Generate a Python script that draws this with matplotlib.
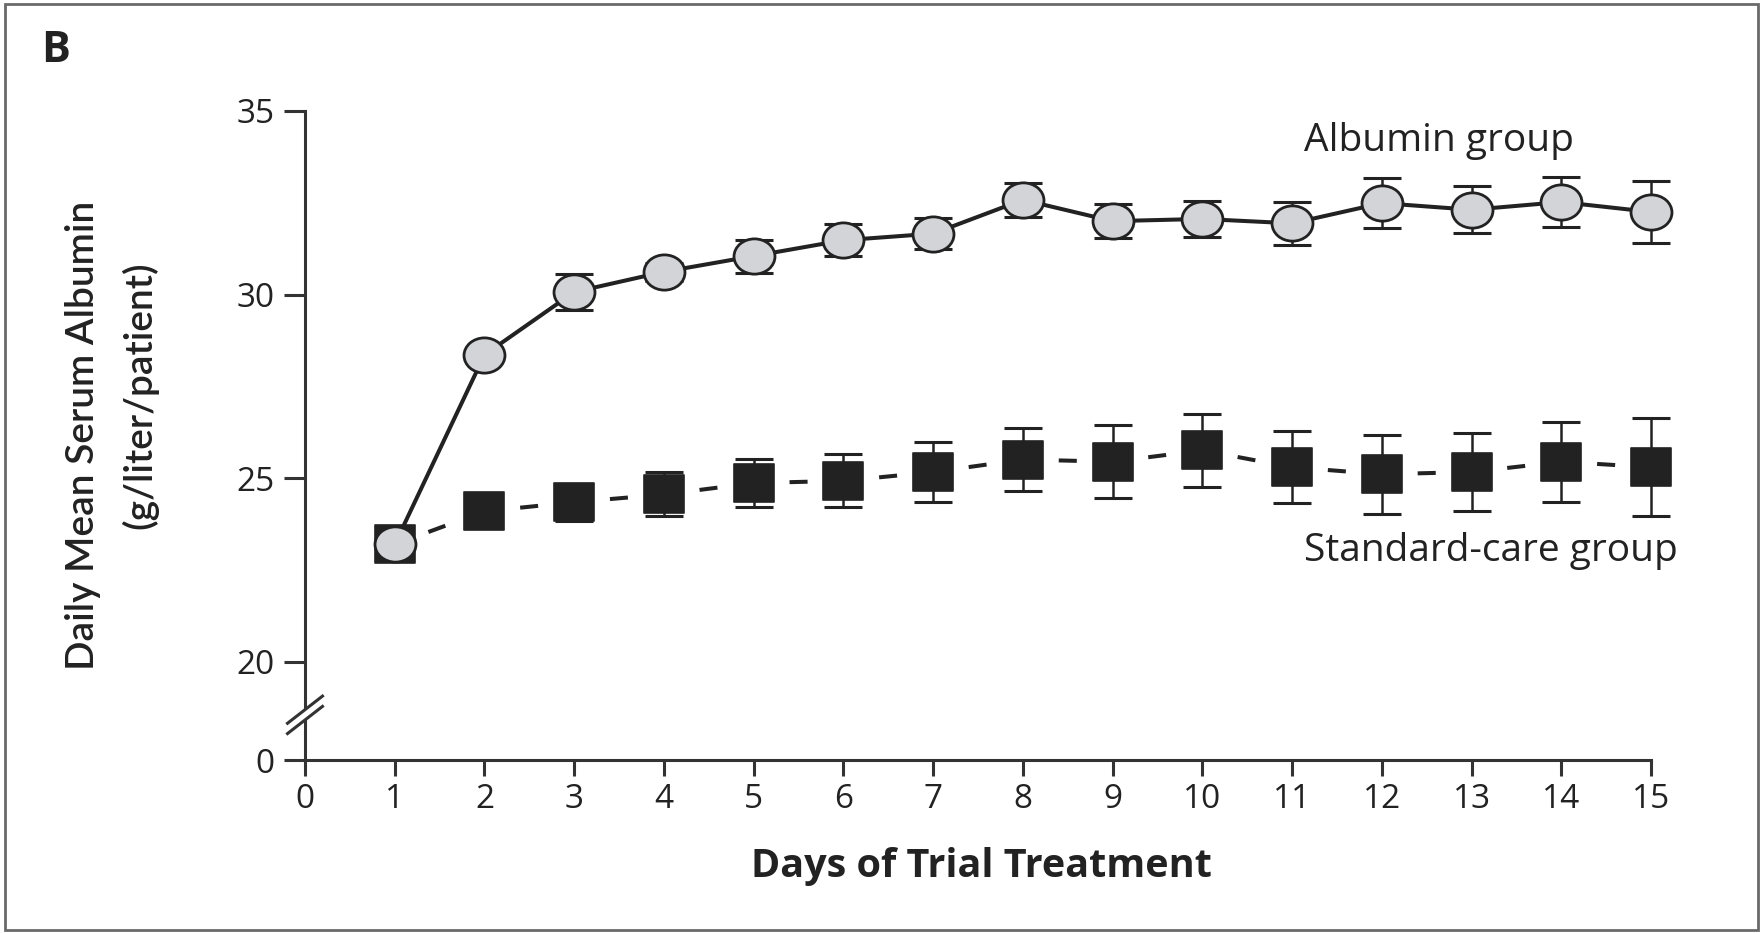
import numpy as np
import matplotlib
matplotlib.use('Agg')
import matplotlib.pyplot as plt
from matplotlib.patches import Rectangle, Polygon
from matplotlib.path import Path

plt.rcParams['font.family'] = ['Open Sans', 'DejaVu Sans']
plt.rcParams['lines.scale_dashes'] = False

# data (g/liter/patient)
days = np.arange(1, 16)
albumin = [23.2, 28.36, 30.07, 30.62, 31.05, 31.48, 31.66, 32.58, 32.0, 32.06,
           31.94, 32.49, 32.31, 32.52, 32.25]
albumin_err = [0.15, 0.2, 0.5, 0.25, 0.45, 0.43, 0.43, 0.47, 0.46, 0.49,
               0.58, 0.69, 0.64, 0.69, 0.84]
standard = [23.2, 24.1, 24.35, 24.56, 24.87, 24.93, 25.17, 25.51, 25.45, 25.76,
            25.3, 25.11, 25.17, 25.45, 25.3]
standard_err = [0.2, 0.3, 0.5, 0.6, 0.66, 0.72, 0.81, 0.86, 1.0, 1.0,
                0.98, 1.07, 1.06, 1.09, 1.33]

ytick_vals = [20, 25, 30, 35]
xtick_vals = list(range(0, 16))

# bottom of the broken axis stands for 0
y_zero = 17.33
ink = '#222222'
axis_col = '#333333'

# slightly flattened marker shapes, as in the printed figure
circ = Path.unit_circle()
oval = Path(circ.vertices * np.array([1.0, 0.86]), circ.codes)
box = Path([(-1, -0.92), (1, -0.92), (1, 0.92), (-1, 0.92), (-1, -0.92)],
           [Path.MOVETO, Path.LINETO, Path.LINETO, Path.LINETO, Path.CLOSEPOLY])

fig = plt.figure(figsize=(17.63, 9.33), dpi=100)
ax = fig.add_axes([0.173, 0.1854, 0.7635, 0.6957])

# error bars
ax.errorbar(days, standard, yerr=standard_err, fmt='none', ecolor=ink,
            elinewidth=1.8, capsize=13.5, capthick=2.2, zorder=2, clip_on=False)
ax.errorbar(days, albumin, yerr=albumin_err, fmt='none', ecolor=ink,
            elinewidth=1.8, capsize=13.5, capthick=2.2, zorder=2, clip_on=False)

# dashed standard-care line, one dash between each pair of markers
for i in range(len(days) - 1):
    ln, = ax.plot(days[i:i + 2], standard[i:i + 2], color=ink, lw=2.9,
                  zorder=3, clip_on=False, dash_capstyle='butt')
    ln.set_linestyle((6.48, (13.0, 19.3)))
ax.plot(days, standard, linestyle='none', marker=box, ms=29.5, mfc=ink, mec=ink,
        mew=1.2, zorder=4, clip_on=False)

# albumin line (solid) with grey circles
ax.plot(days, albumin, color=ink, lw=2.9, marker=oval, ms=29.5, mfc='#d3d4d8',
        mec=ink, mew=2.0, zorder=5, clip_on=False)

ax.set_xlim(0, 15)
ax.set_ylim(y_zero, 35)
ax.set_xticks(xtick_vals)
ax.set_xticklabels([str(v) for v in xtick_vals])
ax.set_yticks([y_zero] + ytick_vals)
ax.set_yticklabels(['0'] + [str(v) for v in ytick_vals])

for s in ['top', 'right']:
    ax.spines[s].set_visible(False)
for s in ['left', 'bottom']:
    ax.spines[s].set_color(axis_col)
    ax.spines[s].set_linewidth(2.2)
ax.tick_params(axis='both', colors=axis_col, labelcolor='#222222', width=2.2,
               labelsize=24)
ax.tick_params(axis='y', length=15, pad=7)
ax.tick_params(axis='x', length=11.5, pad=5)

# axis break marks
brk_y = 18.42
trans = matplotlib.transforms.blended_transform_factory(ax.transAxes, ax.transData)
dx = 0.013
dy = 0.37
gap = 0.14
poly = Polygon([(-dx, brk_y - dy), (dx, brk_y + dy), (dx, brk_y + dy + gap * 2),
                (-dx, brk_y - dy + gap * 2)], closed=True, transform=trans,
               facecolor='white', edgecolor='none', zorder=6, clip_on=False)
ax.add_patch(poly)
for off in (0.0, gap * 2):
    ax.plot([-dx, dx], [brk_y - dy + off, brk_y + dy + off], color=axis_col,
            lw=2.2, transform=trans, clip_on=False, zorder=7)

# series labels
ax.text(11.13, 34.18, 'Albumin group', fontsize=28, ha='left', va='center',
        color='#222222')
ax.text(11.13, 23.02, 'Standard-care group', fontsize=28, ha='left',
        va='center', color='#222222')

# axis titles
fig.text(981 / 1763, 1 - 866 / 933, 'Days of Trial Treatment', fontsize=28.5,
         fontweight='bold', ha='center', va='center', color='#222222')
fig.text(83 / 1763, 1 - 435 / 933, 'Daily Mean Serum Albumin', fontsize=28,
         fontweight='semibold', rotation=90, ha='center', va='center',
         color='#222222', family=['Lato', 'DejaVu Sans'])
fig.text(140 / 1763, 1 - 395 / 933, '(g/liter/patient)', fontsize=28,
         fontweight='semibold', rotation=90, ha='center', va='center',
         color='#222222', family=['Lato', 'DejaVu Sans'])
fig.text(56 / 1763, 1 - 50 / 933, 'B', fontsize=31, fontweight='bold',
         ha='center', va='center', color='#222222')

# panel frame
fig.patches.append(Rectangle((0.003, 0.003), 0.994, 0.993, transform=fig.transFigure,
                             fill=False, edgecolor='#6a6a6a', lw=2.0))

fig.savefig('out.png', dpi=100)
